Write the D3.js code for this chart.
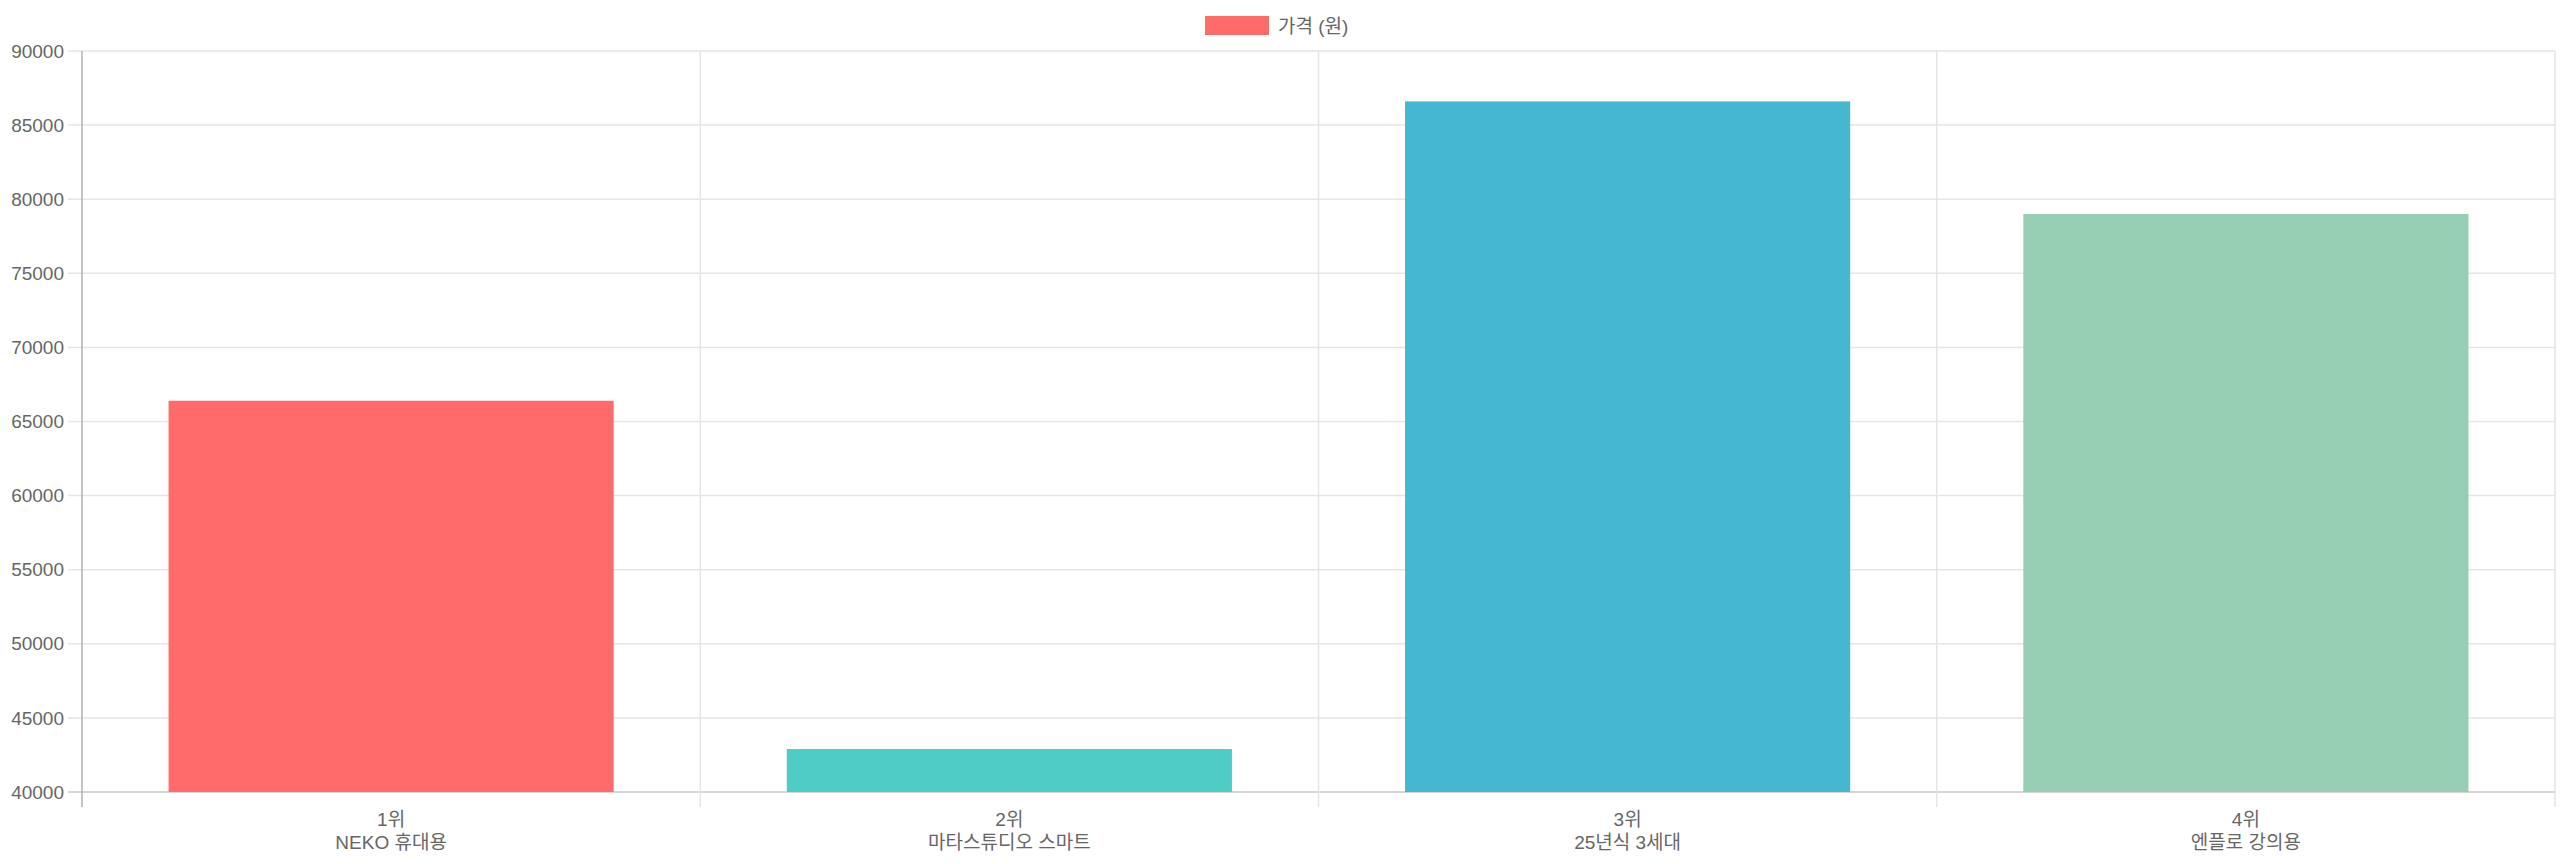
<!DOCTYPE html>
<html><head><meta charset="utf-8">
<script src="https://cdn.jsdelivr.net/npm/d3@7"></script>
<style>body{margin:0;background:#fff}text{font-family:"Liberation Sans","Noto Sans CJK KR",sans-serif;fill:#666}</style>
</head><body><svg id="chart"></svg>
<script>
var ranks = ["1위", "2위", "3위", "4위"];
var names = ["NEKO 휴대용", "마타스튜디오 스마트", "25년식 3세대", "엔플로 강의용"];
var prices = [66400, 42900, 86600, 79000];
var colors = ["#FF6B6B", "#4ECDC4", "#45B7D1", "#96CEB4"];
var yTicks = [40000, 45000, 50000, 55000, 60000, 65000, 70000, 75000, 80000, 85000, 90000];

var svgWidth = 2560, svgHeight = 864;
var margin = {top: 51, right: 5, bottom: 72, left: 82};
var width = svgWidth - margin.left - margin.right;
var height = svgHeight - margin.top - margin.bottom;

var svg = d3.select("#chart").attr("width", svgWidth).attr("height", svgHeight);
var g = svg.append("g").attr("transform", `translate(${margin.left},${margin.top})`);

var x = d3.scaleBand().domain(d3.range(ranks.length)).range([0, width]);
var y = d3.scaleLinear().domain([40000, 90000]).range([height, 0]);

// horizontal grid
g.selectAll(".hgrid").data(yTicks).enter().append("line")
  .attr("x1", -14).attr("x2", width)
  .attr("y1", d => y(d)).attr("y2", d => y(d))
  .attr("stroke", d => d === 40000 ? "#c8c8c8" : "#e5e5e5").attr("stroke-width", 1.5);

// vertical grid
g.selectAll(".vgrid").data(d3.range(ranks.length + 1)).enter().append("line")
  .attr("x1", d => d * x.bandwidth()).attr("x2", d => d * x.bandwidth())
  .attr("y1", 0).attr("y2", height + 15)
  .attr("stroke", d => d === 0 ? "#b0b0b0" : "#e5e5e5").attr("stroke-width", 1.5);

g.selectAll(".ylab").data(yTicks).enter().append("text")
  .attr("x", -18).attr("y", d => y(d)).attr("dy", "0.35em")
  .attr("text-anchor", "end").attr("font-size", 19).text(d => d);

var bw = x.bandwidth() * 0.72;
g.selectAll(".bar").data(prices).enter().append("rect")
  .attr("x", (d, i) => x(i) + (x.bandwidth() - bw) / 2)
  .attr("width", bw)
  .attr("y", d => y(d)).attr("height", d => height - y(d))
  .attr("fill", (d, i) => colors[i]);

var xl = g.selectAll(".xlab").data(ranks).enter().append("text")
  .attr("text-anchor", "middle").attr("font-size", 19)
  .attr("x", (d, i) => x(i) + x.bandwidth() / 2);
xl.append("tspan").attr("x", (d, i) => x(i) + x.bandwidth() / 2).attr("y", height + 34).text(d => d);
xl.append("tspan").attr("x", (d, i) => x(i) + x.bandwidth() / 2).attr("y", height + 57).text((d, i) => names[i]);

// legend
svg.append("rect").attr("x", 1205).attr("y", 16).attr("width", 64).attr("height", 19).attr("fill", colors[0]);
svg.append("text").attr("x", 1278).attr("y", 26).attr("dy", "0.35em").attr("font-size", 19).text("가격 (원)");
</script></body></html>
